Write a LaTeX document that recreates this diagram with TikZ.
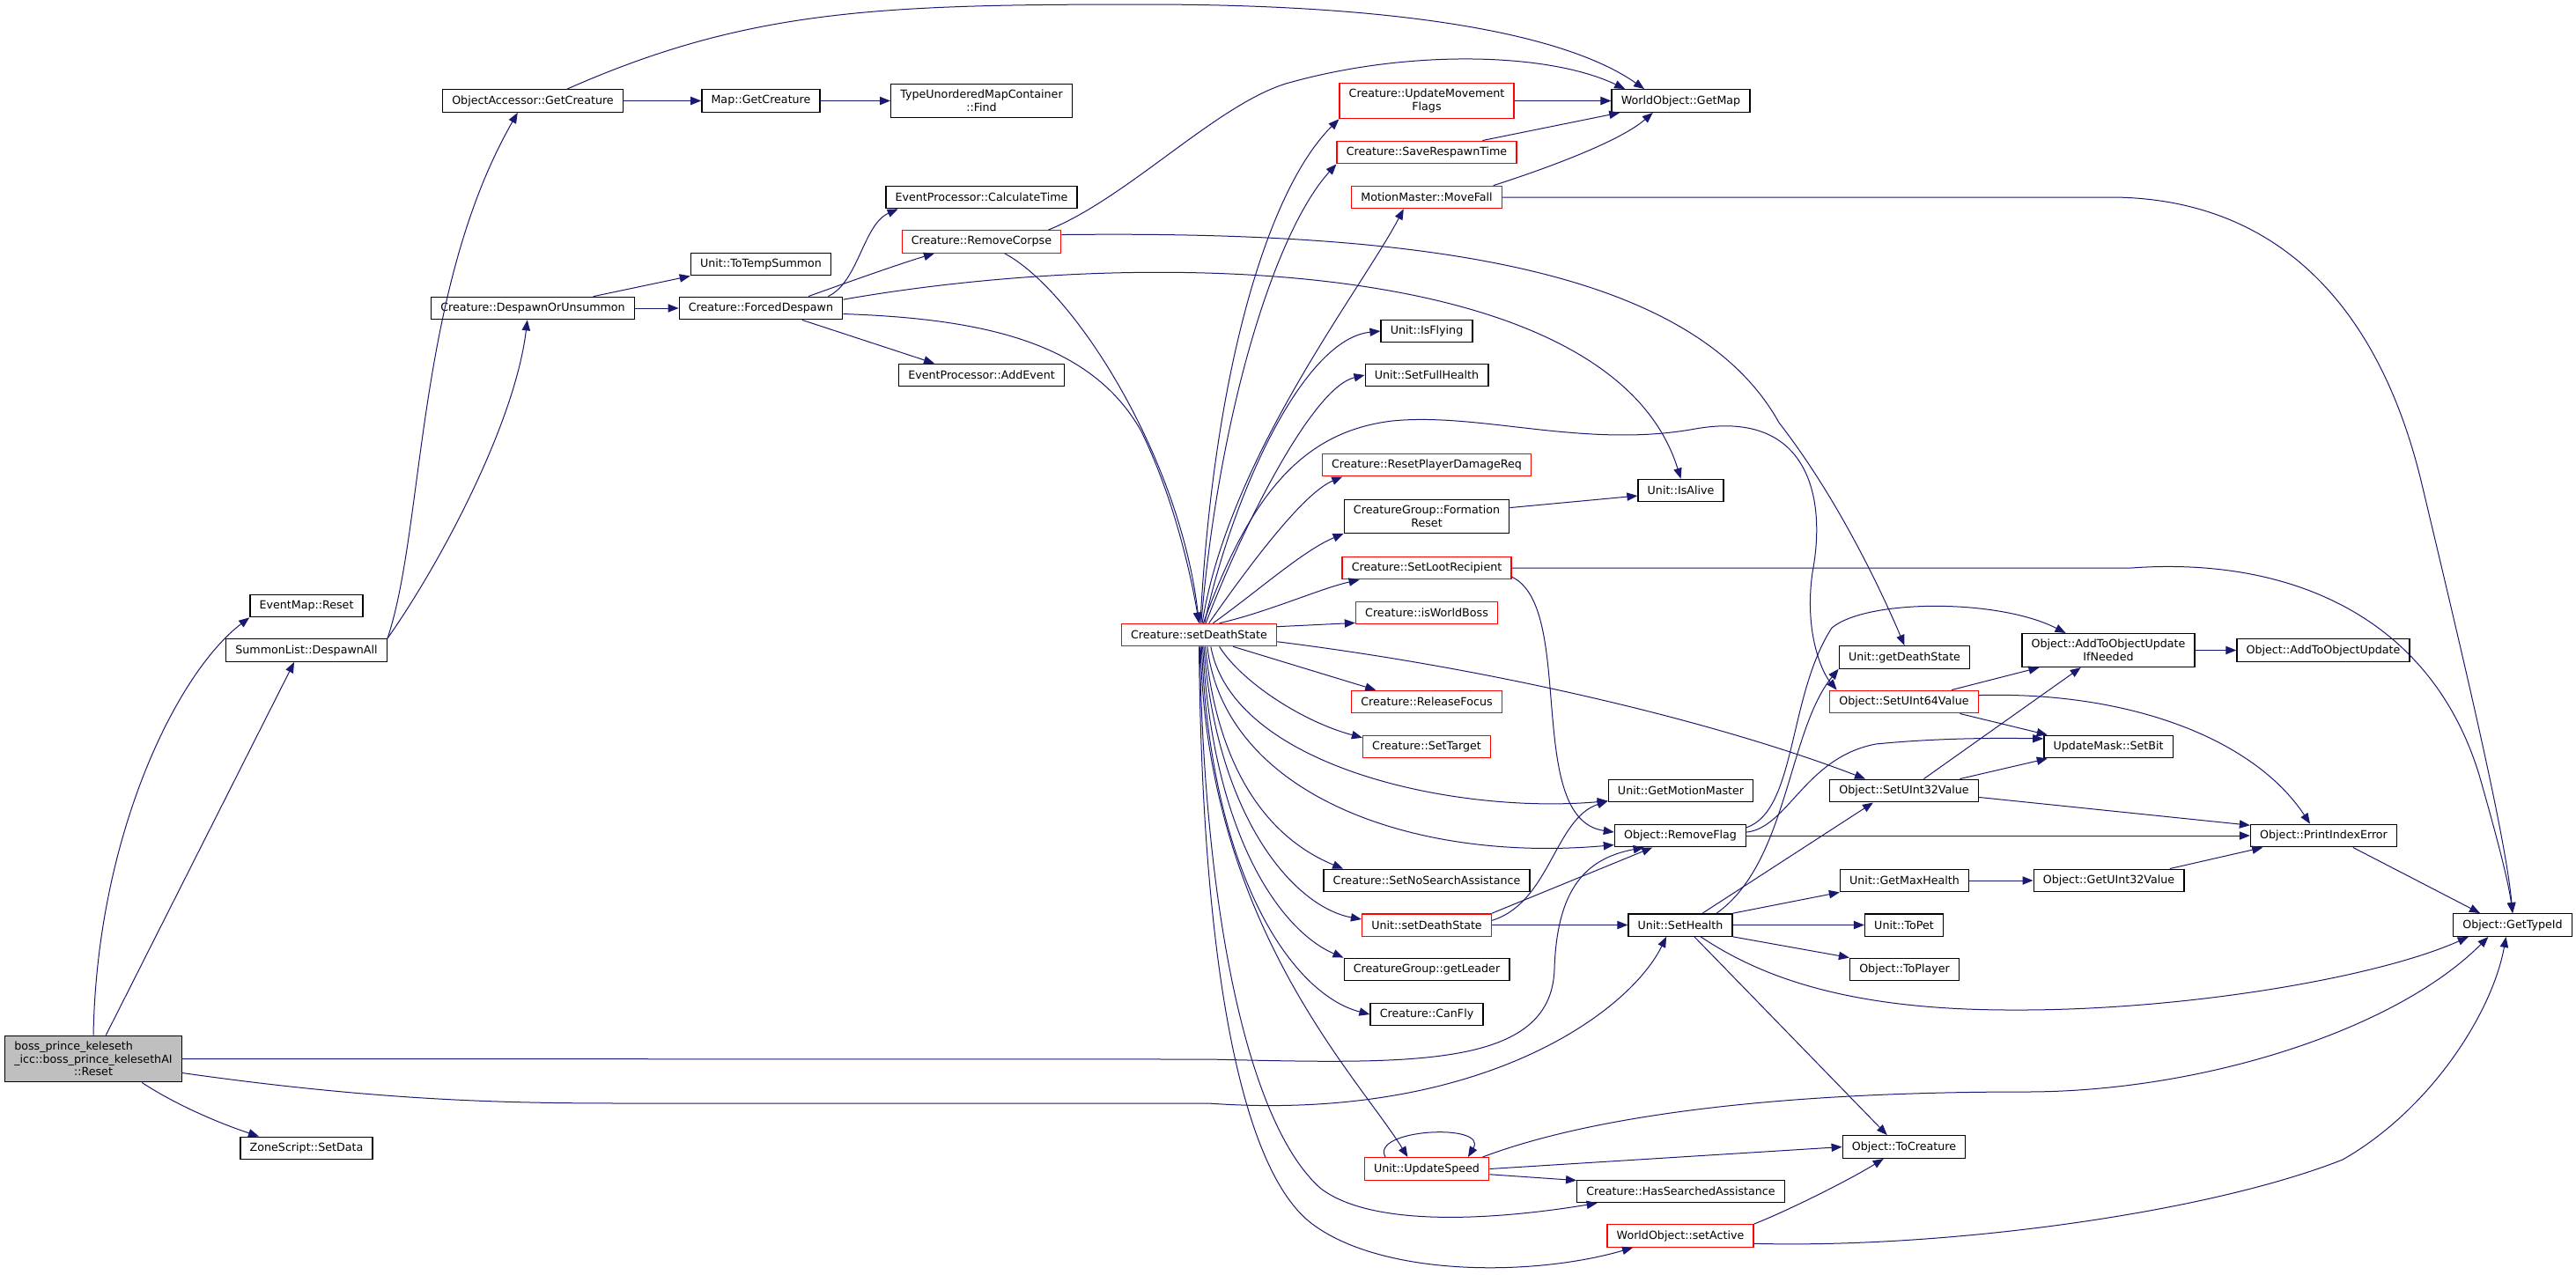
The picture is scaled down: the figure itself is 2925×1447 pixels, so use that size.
\documentclass[tikz,border=0pt]{standalone}
\usepackage{fontspec}
\setmainfont{DejaVu Sans}
\usetikzlibrary{arrows.meta}

\tikzset{every picture/.style={line width=0.75pt}}
\tikzset{
  fnbox/.style={draw={rgb, 255:red, 0; green, 0; blue, 0 }, fill=white, line width=1pt, inner xsep=8pt, inner ysep=5pt, minimum height=19pt, align=center, font=\fontsize{9.5}{11}\selectfont},
  fnred/.style={fnbox, draw={rgb, 255:red, 255; green, 0; blue, 0 }},
  fnroot/.style={fnbox, fill={rgb, 255:red, 191; green, 191; blue, 191 }},
  call/.style={draw={rgb, 255:red, 25; green, 25; blue, 112 }, line width=0.75pt, -{Triangle[length=9pt,width=7pt]}},
}

\begin{document}
\begin{tikzpicture}[x=0.75pt,y=0.75pt,yscale=-1,xscale=1]
%set diagram size: 2925 x 1447
\useasboundingbox (0,0) rectangle (2925,1447);

% Text Node: caller
\node[fnroot] (boss) at (106,1202.5) {\rlap{boss\_prince\_keleseth}\phantom{\_icc::boss\_prince\_kelesethAI}\\\_icc::boss\_prince\_kelesethAI\\::Reset};
% Text Nodes: first column
\node[fnbox] (evReset) at (348,688) {EventMap::Reset};
\node[fnbox] (sumDespawn) at (348,738.5) {SummonList::DespawnAll};
\node[fnbox] (zoneSetData) at (348,1304) {ZoneScript::SetData};
\node[fnbox] (oaGetCreature) at (605,114.5) {ObjectAccessor::GetCreature};
\node[fnbox] (despawnUnsummon) at (605,350) {Creature::DespawnOrUnsummon};
\node[fnbox] (mapGetCreature) at (864,114.5) {Map::GetCreature};
\node[fnbox] (typeFind) at (1114.5,114.5) {TypeUnorderedMapContainer\\::Find};
\node[fnbox] (toTempSummon) at (864,300) {Unit::ToTempSummon};
\node[fnbox] (forcedDespawn) at (864,350) {Creature::ForcedDespawn};
\node[fnbox] (calcTime) at (1114.5,224) {EventProcessor::CalculateTime};
\node[fnred] (removeCorpse) at (1114.5,274.5) {Creature::RemoveCorpse};
\node[fnbox] (addEvent) at (1114.5,426) {EventProcessor::AddEvent};
\node[fnred] (crSetDeath) at (1361.5,721) {Creature::setDeathState};
% Text Nodes: setDeathState column
\node[fnred] (updMoveFlags) at (1620,114.5) {Creature::UpdateMovement\\Flags};
\node[fnred] (saveRespawn) at (1620,173) {Creature::SaveRespawnTime};
\node[fnred] (moveFall) at (1620,224) {MotionMaster::MoveFall};
\node[fnbox] (isFlying) at (1620,376) {Unit::IsFlying};
\node[fnbox] (setFullHealth) at (1620,426) {Unit::SetFullHealth};
\node[fnred] (resetDmg) at (1620,528) {Creature::ResetPlayerDamageReq};
\node[fnbox] (formReset) at (1620,586.5) {CreatureGroup::Formation\\Reset};
\node[fnred] (setLoot) at (1620,645) {Creature::SetLootRecipient};
\node[fnred] (isWorldBoss) at (1620,696) {Creature::isWorldBoss};
\node[fnred] (releaseFocus) at (1620,797) {Creature::ReleaseFocus};
\node[fnred] (setTarget) at (1620,848) {Creature::SetTarget};
\node[fnbox] (setNoSearch) at (1620,1000) {Creature::SetNoSearchAssistance};
\node[fnred] (unSetDeath) at (1620,1050.5) {Unit::setDeathState};
\node[fnbox] (getLeader) at (1620,1101) {CreatureGroup::getLeader};
\node[fnbox] (canFly) at (1620,1152) {Creature::CanFly};
\node[fnred] (updSpeed) at (1620,1327.5) {Unit::UpdateSpeed};
% Text Nodes: next columns
\node[fnbox] (getMap) at (1908.5,114.5) {WorldObject::GetMap};
\node[fnbox] (isAlive) at (1908.5,557) {Unit::IsAlive};
\node[fnbox] (getMotion) at (1908.5,898) {Unit::GetMotionMaster};
\node[fnbox] (removeFlag) at (1908,949) {Object::RemoveFlag};
\node[fnbox] (setHealth) at (1908,1050.5) {Unit::SetHealth};
\node[fnbox] (hasSearched) at (1908.5,1353) {Creature::HasSearchedAssistance};
\node[fnred] (setActive) at (1908,1403.5) {WorldObject::setActive};
\node[fnbox] (getDeathState) at (2162.5,746.5) {Unit::getDeathState};
\node[fnred] (setU64) at (2162,797) {Object::SetUInt64Value};
\node[fnbox] (setU32) at (2162,898) {Object::SetUInt32Value};
\node[fnbox] (getMaxHealth) at (2162.5,1000) {Unit::GetMaxHealth};
\node[fnbox] (toPet) at (2162,1050.5) {Unit::ToPet};
\node[fnbox] (toPlayer) at (2162.5,1101) {Object::ToPlayer};
\node[fnbox] (toCreature) at (2162,1302.5) {Object::ToCreature};
\node[fnbox] (addIfNeeded) at (2394,738.5) {Object::AddToObjectUpdate\\IfNeeded};
\node[fnbox] (setBit) at (2394,848) {UpdateMask::SetBit};
\node[fnbox] (getU32) at (2394.5,1000) {Object::GetUInt32Value};
\node[fnbox] (addUpdate) at (2638,738.5) {Object::AddToObjectUpdate};
\node[fnbox] (printIdx) at (2638.5,949) {Object::PrintIndexError};
\node[fnbox] (getTypeId) at (2853,1050.5) {Object::GetTypeId};

%Curve Lines: calls from the root
\draw[call] (boss.north) .. controls (110,950) and (200,765) .. (evReset.south west);
\draw[call] (boss.62) -- (sumDespawn.224);
\draw[call] (boss.-26) .. controls (200,1255) and (250,1276) .. (zoneSetData.166);
\draw[call] (boss.east) -- (1372,1203) .. controls (1600,1208) and (1762,1215) .. (1765,1100) .. controls (1768,1010) and (1800,975) .. (removeFlag.198);
\draw[call] (boss.-9) .. controls (450,1253) and (600,1253) .. (730,1253) -- (1372,1253) .. controls (1680,1275) and (1850,1150) .. (setHealth.220);

%Curve Lines: despawn branch
\draw[call] (sumDespawn.north east) .. controls (482,600) and (472,330) .. (oaGetCreature.-142);
\draw[call] (sumDespawn.north east) .. controls (500,640) and (585,480) .. (despawnUnsummon.-115);
\draw[call] (oaGetCreature.east) -- (mapGetCreature.west);
\draw[call] (oaGetCreature.19) .. controls (850,10) and (1000,5) .. (1300,5) .. controls (1600,5) and (1780,40) .. (getMap.162);
\draw[call] (mapGetCreature.east) -- (typeFind.west);
\draw[call] (despawnUnsummon.11) -- (toTempSummon.south west);
\draw[call] (despawnUnsummon.east) -- (forcedDespawn.west);
\draw[call] (forcedDespawn.10) .. controls (975,320) and (980,255) .. (calcTime.188);
\draw[call] (forcedDespawn.14) .. controls (950,325) and (1020,300) .. (removeCorpse.194);
\draw[call] (forcedDespawn.6) .. controls (1300,280) and (1830,290) .. (isAlive.north);
\draw[call] (forcedDespawn.-16) -- (addEvent.166);
\draw[call] (forcedDespawn.-4) .. controls (1120,362) and (1240,390) .. (1296,490) .. controls (1330,560) and (1350,640) .. (crSetDeath.north);
\draw[call] (removeCorpse.10) .. controls (1280,225) and (1380,120) .. (1460,95) .. controls (1600,55) and (1760,60) .. (getMap.168);
\draw[call] (removeCorpse.5) .. controls (1600,262) and (1920,300) .. (2020,480) .. controls (2090,570) and (2140,680) .. (getDeathState.north);
\draw[call] (removeCorpse.-27) .. controls (1220,330) and (1340,520) .. (crSetDeath.north);

%Curve Lines: calls from Creature::setDeathState
\draw[call] (crSetDeath.84) .. controls (1378,420) and (1440,215) .. (updMoveFlags.south west);
\draw[call] (crSetDeath.80) .. controls (1385,460) and (1450,260) .. (saveRespawn.south west);
\draw[call] (crSetDeath.75) .. controls (1395,520) and (1545,330) .. (moveFall.207);
\draw[call] (crSetDeath.70) .. controls (1420,560) and (1480,490) .. (1581,478) .. controls (1680,468) and (1800,510) .. (1925,487) .. controls (2050,465) and (2075,560) .. (2058,650) .. controls (2048,720) and (2070,765) .. (setU64.170);
\draw[call] (crSetDeath.65) .. controls (1400,560) and (1480,385) .. (isFlying.west);
\draw[call] (crSetDeath.60) .. controls (1410,600) and (1490,440) .. (setFullHealth.west);
\draw[call] (crSetDeath.50) .. controls (1420,640) and (1480,560) .. (resetDmg.188);
\draw[call] (crSetDeath.40) .. controls (1430,670) and (1480,625) .. (formReset.south west);
\draw[call] (crSetDeath.30) .. controls (1440,695) and (1500,668) .. (setLoot.190);
\draw[call] (crSetDeath.6) -- (isWorldBoss.188);
\draw[call] (crSetDeath.-19) -- (releaseFocus.167);
\draw[call] (crSetDeath.-30) .. controls (1410,775) and (1480,820) .. (setTarget.172);
\draw[call] (crSetDeath.-5) .. controls (1700,760) and (1950,820) .. (setU32.163);
\draw[call] (crSetDeath.-45) .. controls (1400,870) and (1650,925) .. (getMotion.188);
\draw[call] (crSetDeath.-55) .. controls (1390,900) and (1600,980) .. (removeFlag.188);
\draw[call] (crSetDeath.-62) .. controls (1385,900) and (1460,960) .. (setNoSearch.172);
\draw[call] (crSetDeath.-68) .. controls (1382,930) and (1470,1030) .. (unSetDeath.175);
\draw[call] (crSetDeath.-73) .. controls (1378,960) and (1460,1060) .. (getLeader.north west);
\draw[call] (crSetDeath.-78) .. controls (1375,1000) and (1470,1130) .. (canFly.west);
\draw[call] (crSetDeath.-83) .. controls (1370,1050) and (1540,1220) .. (updSpeed.148);
\draw[call] (crSetDeath.-87) .. controls (1368,1050) and (1420,1280) .. (1500,1350) .. controls (1560,1395) and (1700,1385) .. (hasSearched.188);
\draw[call] (crSetDeath.-90) .. controls (1365,1100) and (1410,1330) .. (1490,1390) .. controls (1570,1450) and (1740,1450) .. (setActive.194);

%Curve Lines: second level calls
\draw[call] (updMoveFlags.east) -- (getMap.west);
\draw[call] (saveRespawn.12) -- (getMap.191);
\draw[call] (moveFall.10) .. controls (1760,190) and (1840,160) .. (getMap.203);
\draw[call] (moveFall.east) -- (2400,224) .. controls (2580,226) and (2700,340) .. (2750,550) .. controls (2800,760) and (2845,950) .. (getTypeId.north);
\draw[call] (formReset.6) -- (isAlive.187);
\draw[call] (setLoot.east) -- (2420,645) .. controls (2600,632) and (2760,700) .. (2815,880) .. controls (2835,950) and (2848,1000) .. (getTypeId.north);
\draw[call] (setLoot.-6) .. controls (1790,690) and (1730,930) .. (removeFlag.177);
\draw[call] (unSetDeath.4) .. controls (1760,1025) and (1765,930) .. (getMotion.188);
\draw[call] (unSetDeath.north east) -- (removeFlag.203);
\draw[call] (unSetDeath.east) -- (setHealth.west);

%Curve Lines: object field updates
\draw[call] (removeFlag.7) .. controls (2040,920) and (2030,790) .. (2080,713) .. controls (2120,680) and (2270,680) .. (addIfNeeded.158);
\draw[call] (removeFlag.3) .. controls (2030,940) and (2050,860) .. (2130,845) .. controls (2200,838) and (2270,838) .. (setBit.173);
\draw[call] (removeFlag.east) -- (printIdx.west);
\draw[call] (setU64.14) -- (addIfNeeded.194);
\draw[call] (setU64.-12) -- (setBit.169);
\draw[call] (setU64.5) .. controls (2420,785) and (2560,840) .. (printIdx.139);
\draw[call] (setU32.31) -- (addIfNeeded.212);
\draw[call] (setU32.12) -- (setBit.191);
\draw[call] (setU32.-5) -- (printIdx.172);
\draw[call] (addIfNeeded.east) -- (addUpdate.west);
\draw[call] (printIdx.-22) -- (getTypeId.160);
\draw[call] (getMaxHealth.east) -- (getU32.west);
\draw[call] (getU32.11) -- (printIdx.191);

%Curve Lines: calls from Unit::SetHealth
\draw[call] (setHealth.north east) -- (getMaxHealth.south west);
\draw[call] (setHealth.east) -- (toPet.west);
\draw[call] (setHealth.south east) -- (toPlayer.north west);
\draw[call] (setHealth.-30) .. controls (2000,1110) and (2100,1147) .. (2284,1147) .. controls (2480,1148) and (2700,1110) .. (getTypeId.195);
\draw[call] (setHealth.-40) -- (toCreature.145);
\draw[call] (setHealth.28) -- (setU32.201);
\draw[call] (setHealth.18) .. controls (2030,980) and (2030,830) .. (getDeathState.190);

%Curve Lines: calls from Unit::UpdateSpeed and WorldObject::setActive
\draw[call] (updSpeed.164) .. controls (1555,1282) and (1690,1275) .. (updSpeed.16);
\draw[call] (updSpeed.east) -- (toCreature.west);
\draw[call] (updSpeed.-5) -- (hasSearched.174);
\draw[call] (updSpeed.12) .. controls (1800,1270) and (2000,1240) .. (2300,1240) .. controls (2500,1240) and (2720,1170) .. (getTypeId.206);
\draw[call] (setActive.north east) .. controls (2030,1375) and (2100,1340) .. (toCreature.210);
\draw[call] (setActive.-6) .. controls (2200,1418) and (2500,1380) .. (2660,1317) .. controls (2760,1260) and (2830,1150) .. (getTypeId.241);

\end{tikzpicture}
\end{document}
